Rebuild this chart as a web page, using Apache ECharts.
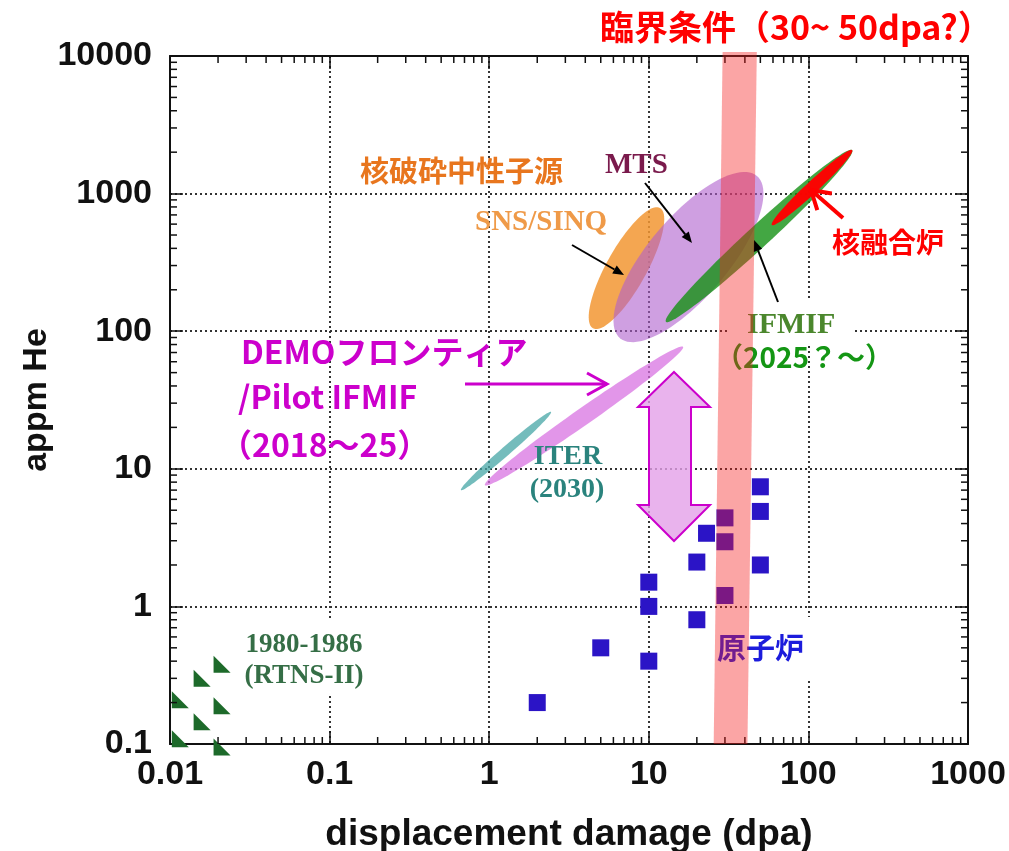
<!DOCTYPE html>
<html>
<head>
<meta charset="utf-8">
<script src="https://cdn.jsdelivr.net/npm/echarts@6/dist/echarts.min.js"></script>
<style>
  html, body { margin: 0; padding: 0; background: #ffffff; }
  #chart { width: 1009px; height: 851px; }
</style>
</head>
<body>
<div id="chart"></div>
<script>
// ---- Axis ranges and tick labels (log scales) ----
const X_MIN = 0.01, X_MAX = 1000;
const Y_MIN = 0.1, Y_MAX = 10000;
const xTickLabels = ['0.01', '0.1', '1', '10', '100', '1000'];
const yTickLabels = ['0.1', '1', '10', '100', '1000', '10000'];

// ---- Fission reactor irradiations (dpa, appm He) ----
const reactorDpa = [2, 5, 10, 10, 10, 20, 20, 23, 30, 30, 30, 50, 50, 50];
const reactorHe  = [0.2, 0.5, 0.4, 1.0, 1.5, 0.8, 2.1, 3.4, 1.2, 2.95, 4.4, 2.0, 4.9, 7.4];

// ---- RTNS-II (1980-1986) ----
const rtnsDpa = [0.0212, 0.0159, 0.0116, 0.0212, 0.0159, 0.0116, 0.0212];
const rtnsHe  = [0.38, 0.30, 0.21, 0.19, 0.145, 0.109, 0.095];

// ---- Facility regions: the two ends of each region's long axis ----
const regionNames    = ['SNS/SINQ', 'MTS', 'IFMIF', '核融合炉', 'DEMO/Pilot IFMIF', 'ITER'];
const regionStartDpa = [4.47, 6.6, 12.8, 59, 0.94, 0.665];
const regionStartHe  = [105, 89, 117, 591, 7.6, 7.0];
const regionEndDpa   = [11.75, 47.6, 188, 188, 16.4, 2.44];
const regionEndHe    = [786, 1343, 2070, 2070, 77, 25.9];

// ---- Critical condition band (30~50 dpa) ----
const bandHe      = [0.1, 10700];   // bottom, top
const bandLowDpa  = [25.5, 29];     // left edge at bottom, top
const bandHighDpa = [41.5, 47.5];   // right edge at bottom, top

// ---- Styles ----
const regionStyles = [
  { fill: 'rgba(242,150,50,0.85)',  thickness: 40 },
  { fill: 'rgba(175,95,205,0.6)',   thickness: 80 },
  { fill: 'rgba(20,145,20,0.8)',    thickness: 22 },
  { fill: 'rgba(255,0,0,0.97)',     thickness: 12 },
  { fill: 'rgba(215,110,225,0.72)', thickness: 17 },
  { fill: 'rgba(70,165,165,0.75)',  thickness: 9 }
];
const SANS = '"Liberation Sans", Arial, sans-serif';
const SERIF = '"Liberation Serif", "Times New Roman", serif';
const CJK = '"Noto Sans CJK JP", "Noto Sans", sans-serif';

// minor tick values 2..9 x 10^n inside each decade
function minorTicks(labels) {
  const out = [];
  for (let i = 0; i < labels.length - 1; i++) {
    const base = parseFloat(labels[i]);
    for (let m = 2; m <= 9; m++) out.push(+(base * m).toPrecision(6));
  }
  return out;
}
const xMinor = minorTicks(xTickLabels);
const yMinor = minorTicks(yTickLabels);

function labelFor(labels, minVal) {
  return function (v) {
    const idx = Math.round(Math.log10(v) - Math.log10(minVal));
    return labels[idx] !== undefined ? labels[idx] : '';
  };
}

// elongated ellipse between two data points, thickness in pixels
function renderRegion(params, api) {
  const st = regionStyles[params.dataIndex];
  const p1 = api.coord([api.value(0), api.value(1)]);
  const p2 = api.coord([api.value(2), api.value(3)]);
  const cx = (p1[0] + p2[0]) / 2, cy = (p1[1] + p2[1]) / 2;
  const dx = p2[0] - p1[0], dy = p2[1] - p1[1];
  const a = Math.hypot(dx, dy) / 2, b = st.thickness / 2;
  const ang = Math.atan2(dy, dx), c = Math.cos(ang), s = Math.sin(ang);
  const pts = [];
  for (let k = 0; k < 96; k++) {
    const t = k / 96 * Math.PI * 2;
    const ex = a * Math.cos(t), ey = b * Math.sin(t);
    pts.push([cx + ex * c - ey * s, cy + ex * s + ey * c]);
  }
  return { type: 'polygon', shape: { points: pts }, style: { fill: st.fill } };
}

function renderBand(params, api) {
  const pts = [
    api.coord([bandLowDpa[0], bandHe[0]]),
    api.coord([bandHighDpa[0], bandHe[0]]),
    api.coord([bandHighDpa[1], bandHe[1]]),
    api.coord([bandLowDpa[1], bandHe[1]])
  ];
  return { type: 'polygon', shape: { points: pts }, style: { fill: 'rgba(245,30,30,0.4)' } };
}

const MINOR_LEN = 7;
function renderXMinor(params, api) {
  const v = api.value(0);
  const b = api.coord([v, Y_MIN]), t = api.coord([v, Y_MAX]);
  return { type: 'group', children: [
    { type: 'line', shape: { x1: b[0], y1: b[1], x2: b[0], y2: b[1] - MINOR_LEN }, style: { stroke: '#111', lineWidth: 1.5 } },
    { type: 'line', shape: { x1: t[0], y1: t[1], x2: t[0], y2: t[1] + MINOR_LEN }, style: { stroke: '#111', lineWidth: 1.5 } }
  ] };
}
function renderYMinor(params, api) {
  const v = api.value(1);
  const l = api.coord([X_MIN, v]), r = api.coord([X_MAX, v]);
  return { type: 'group', children: [
    { type: 'line', shape: { x1: l[0], y1: l[1], x2: l[0] + MINOR_LEN, y2: l[1] }, style: { stroke: '#111', lineWidth: 1.5 } },
    { type: 'line', shape: { x1: r[0], y1: r[1], x2: r[0] - MINOR_LEN, y2: r[1] }, style: { stroke: '#111', lineWidth: 1.5 } }
  ] };
}

// ---- annotation helpers (pixel space) ----
function text(str, x, y, size, color, family, align, z) {
  return { type: 'text', z: z || 5, silent: true,
    style: { text: str, x: x, y: y, font: 'bold ' + size + 'px ' + family, fill: color,
             textAlign: align || 'left', textVerticalAlign: 'middle' } };
}
function box(x, y, w, h) {
  return { type: 'rect', z: 1, silent: true, shape: { x: x, y: y, width: w, height: h }, style: { fill: '#ffffff' } };
}
function arrow(x1, y1, x2, y2, color, width, headLen, headHalf, open) {
  const ang = Math.atan2(y2 - y1, x2 - x1), c = Math.cos(ang), s = Math.sin(ang);
  const bx = x2 - headLen * c, by = y2 - headLen * s;
  const w1 = [bx - headHalf * s, by + headHalf * c], w2 = [bx + headHalf * s, by - headHalf * c];
  const out = [];
  if (open) {
    out.push({ type: 'line', z: 5, silent: true, shape: { x1: x1, y1: y1, x2: x2, y2: y2 }, style: { stroke: color, lineWidth: width } });
    out.push({ type: 'polyline', z: 5, silent: true, shape: { points: [w1, [x2, y2], w2] }, style: { stroke: color, lineWidth: width, fill: null, lineJoin: 'miter' } });
  } else {
    out.push({ type: 'line', z: 5, silent: true, shape: { x1: x1, y1: y1, x2: bx, y2: by }, style: { stroke: color, lineWidth: width } });
    out.push({ type: 'polygon', z: 5, silent: true, shape: { points: [w1, [x2, y2], w2] }, style: { fill: color } });
  }
  return out;
}

const graphics = [].concat(
  [
    box(236, 620, 139, 73),
    box(703, 617, 117, 64),
    box(728, 300, 127, 44),
    text('臨界条件（30~ 50dpa?）', 600, 27, 34, '#ff0000', CJK),
    text('核破砕中性子源', 360, 171, 29, '#e8761e', CJK),
    text('SNS/SINQ', 475, 223, 29, '#ef9a48', SERIF),
    text('MTS', 605, 166, 29, '#7a1a4c', SERIF),
    text('核融合炉', 832, 242, 28, '#ff0000', CJK),
    text('IFMIF', 747, 325, 30, '#4b872d', SERIF),
    text('（2025？～）', 715, 357, 28, '#149614', CJK),
    text('DEMOフロンティア', 241, 352, 32, '#cc00cc', CJK),
    text('/Pilot IFMIF', 238, 397, 32, '#cc00cc', CJK),
    text('（2018～25）', 220, 445, 32, '#cc00cc', CJK),
    text('ITER', 568, 457, 28, '#2a837d', SERIF, 'center'),
    text('(2030)', 567, 490, 28, '#2a837d', SERIF, 'center'),
    text('1980-1986', 304, 645, 27, '#356e46', SERIF, 'center'),
    text('(RTNS-II)', 304, 676, 27, '#356e46', SERIF, 'center'),
    text('原子炉', 717, 648, 29, '#1c1cdc', CJK),
    {
      type: 'polygon', z: 5, silent: true,
      shape: { points: [[674, 372], [710, 407], [691, 407], [691, 505], [710, 505], [674, 541],
                        [638, 505], [649, 505], [649, 407], [638, 407]] },
      style: { fill: 'rgba(228,160,232,0.8)', stroke: '#cc00cc', lineWidth: 2 }
    }
  ],
  arrow(645, 183, 692, 243, '#000', 2, 11, 4.5, false),
  arrow(572, 245, 624, 275, '#000', 2, 11, 4.5, false),
  arrow(778, 302, 754, 240, '#000', 2, 11, 4.5, false),
  arrow(843, 218, 811, 190, '#ff0000', 4, 18, 11, true),
  arrow(465, 384, 607, 384, '#cc00cc', 3, 20, 11, true)
);

const axisCommon = {
  type: 'log', logBase: 10,
  axisLine: { show: true, onZero: false, lineStyle: { color: '#111', width: 2 } },
  axisTick: { show: true, inside: true, length: 13, lineStyle: { color: '#111', width: 1.5 } },
  minorTick: { show: false },
  splitLine: { show: false }
};
const gridLine = { show: true, lineStyle: { color: '#333', width: 2, type: [2, 3] } };
const tickFont = { fontFamily: SANS, fontWeight: 'bold', fontSize: 34, color: '#111' };

const option = {
  backgroundColor: '#ffffff',
  animation: false,
  grid: { left: 170, right: 41, top: 56, bottom: 107, containLabel: false, outerBoundsMode: 'none' },
  xAxis: [
    Object.assign({}, axisCommon, {
      position: 'bottom', min: X_MIN, max: X_MAX, splitNumber: 5,
      name: 'displacement damage (dpa)', nameLocation: 'middle', nameGap: 72,
      nameTextStyle: { fontFamily: SANS, fontWeight: 'bold', fontSize: 37, color: '#111' },
      axisLabel: Object.assign({ margin: 14, formatter: labelFor(xTickLabels, X_MIN) }, tickFont),
      splitLine: gridLine
    }),
    Object.assign({}, axisCommon, {
      position: 'top', min: X_MIN, max: X_MAX, splitNumber: 5, axisLabel: { show: false }
    })
  ],
  yAxis: [
    Object.assign({}, axisCommon, {
      position: 'left', min: Y_MIN, max: Y_MAX, splitNumber: 5,
      name: 'appm He', nameLocation: 'middle', nameGap: 116, nameMoveOverlap: false,
      nameTextStyle: { fontFamily: SANS, fontWeight: 'bold', fontSize: 34, color: '#111' },
      axisLabel: Object.assign({ margin: 18, formatter: labelFor(yTickLabels, Y_MIN) }, tickFont),
      splitLine: gridLine
    }),
    Object.assign({}, axisCommon, {
      position: 'right', min: Y_MIN, max: Y_MAX, splitNumber: 5, axisLabel: { show: false }
    })
  ],
  series: [
    {
      name: 'x minor ticks', type: 'custom', silent: true, clip: false, z: 4,
      xAxisIndex: 0, yAxisIndex: 0, renderItem: renderXMinor,
      data: xMinor.map(v => [v, Y_MIN])
    },
    {
      name: 'y minor ticks', type: 'custom', silent: true, clip: false, z: 4,
      xAxisIndex: 0, yAxisIndex: 0, renderItem: renderYMinor,
      data: yMinor.map(v => [X_MIN, v])
    },
    {
      name: 'regions', type: 'custom', silent: true, clip: false, z: 2,
      xAxisIndex: 0, yAxisIndex: 0, renderItem: renderRegion,
      encode: { x: [0, 2], y: [1, 3] },
      data: regionNames.map((n, i) => ({ name: n, value: [regionStartDpa[i], regionStartHe[i], regionEndDpa[i], regionEndHe[i]] }))
    },
    {
      name: '原子炉', type: 'scatter', z: 3, xAxisIndex: 0, yAxisIndex: 0,
      symbol: 'rect', symbolSize: 17, itemStyle: { color: '#2b14c6', opacity: 1 },
      data: reactorDpa.map((d, i) => [d, reactorHe[i]])
    },
    {
      name: 'RTNS-II', type: 'scatter', z: 3, clip: false, xAxisIndex: 0, yAxisIndex: 0,
      symbol: 'path://M0,0L0,10L10,10Z', symbolSize: 17, itemStyle: { color: '#1d6a2a', opacity: 1 },
      data: rtnsDpa.map((d, i) => [d, rtnsHe[i]])
    },
    {
      name: '臨界条件', type: 'custom', silent: true, clip: false, z: 6,
      xAxisIndex: 0, yAxisIndex: 0, renderItem: renderBand,
      data: [[bandLowDpa[0], bandHe[0]]]
    }
  ],
  graphic: { elements: graphics }
};

const chart = echarts.init(document.getElementById('chart'), null, { renderer: 'canvas' });
chart.setOption(option);
</script>
</body>
</html>
